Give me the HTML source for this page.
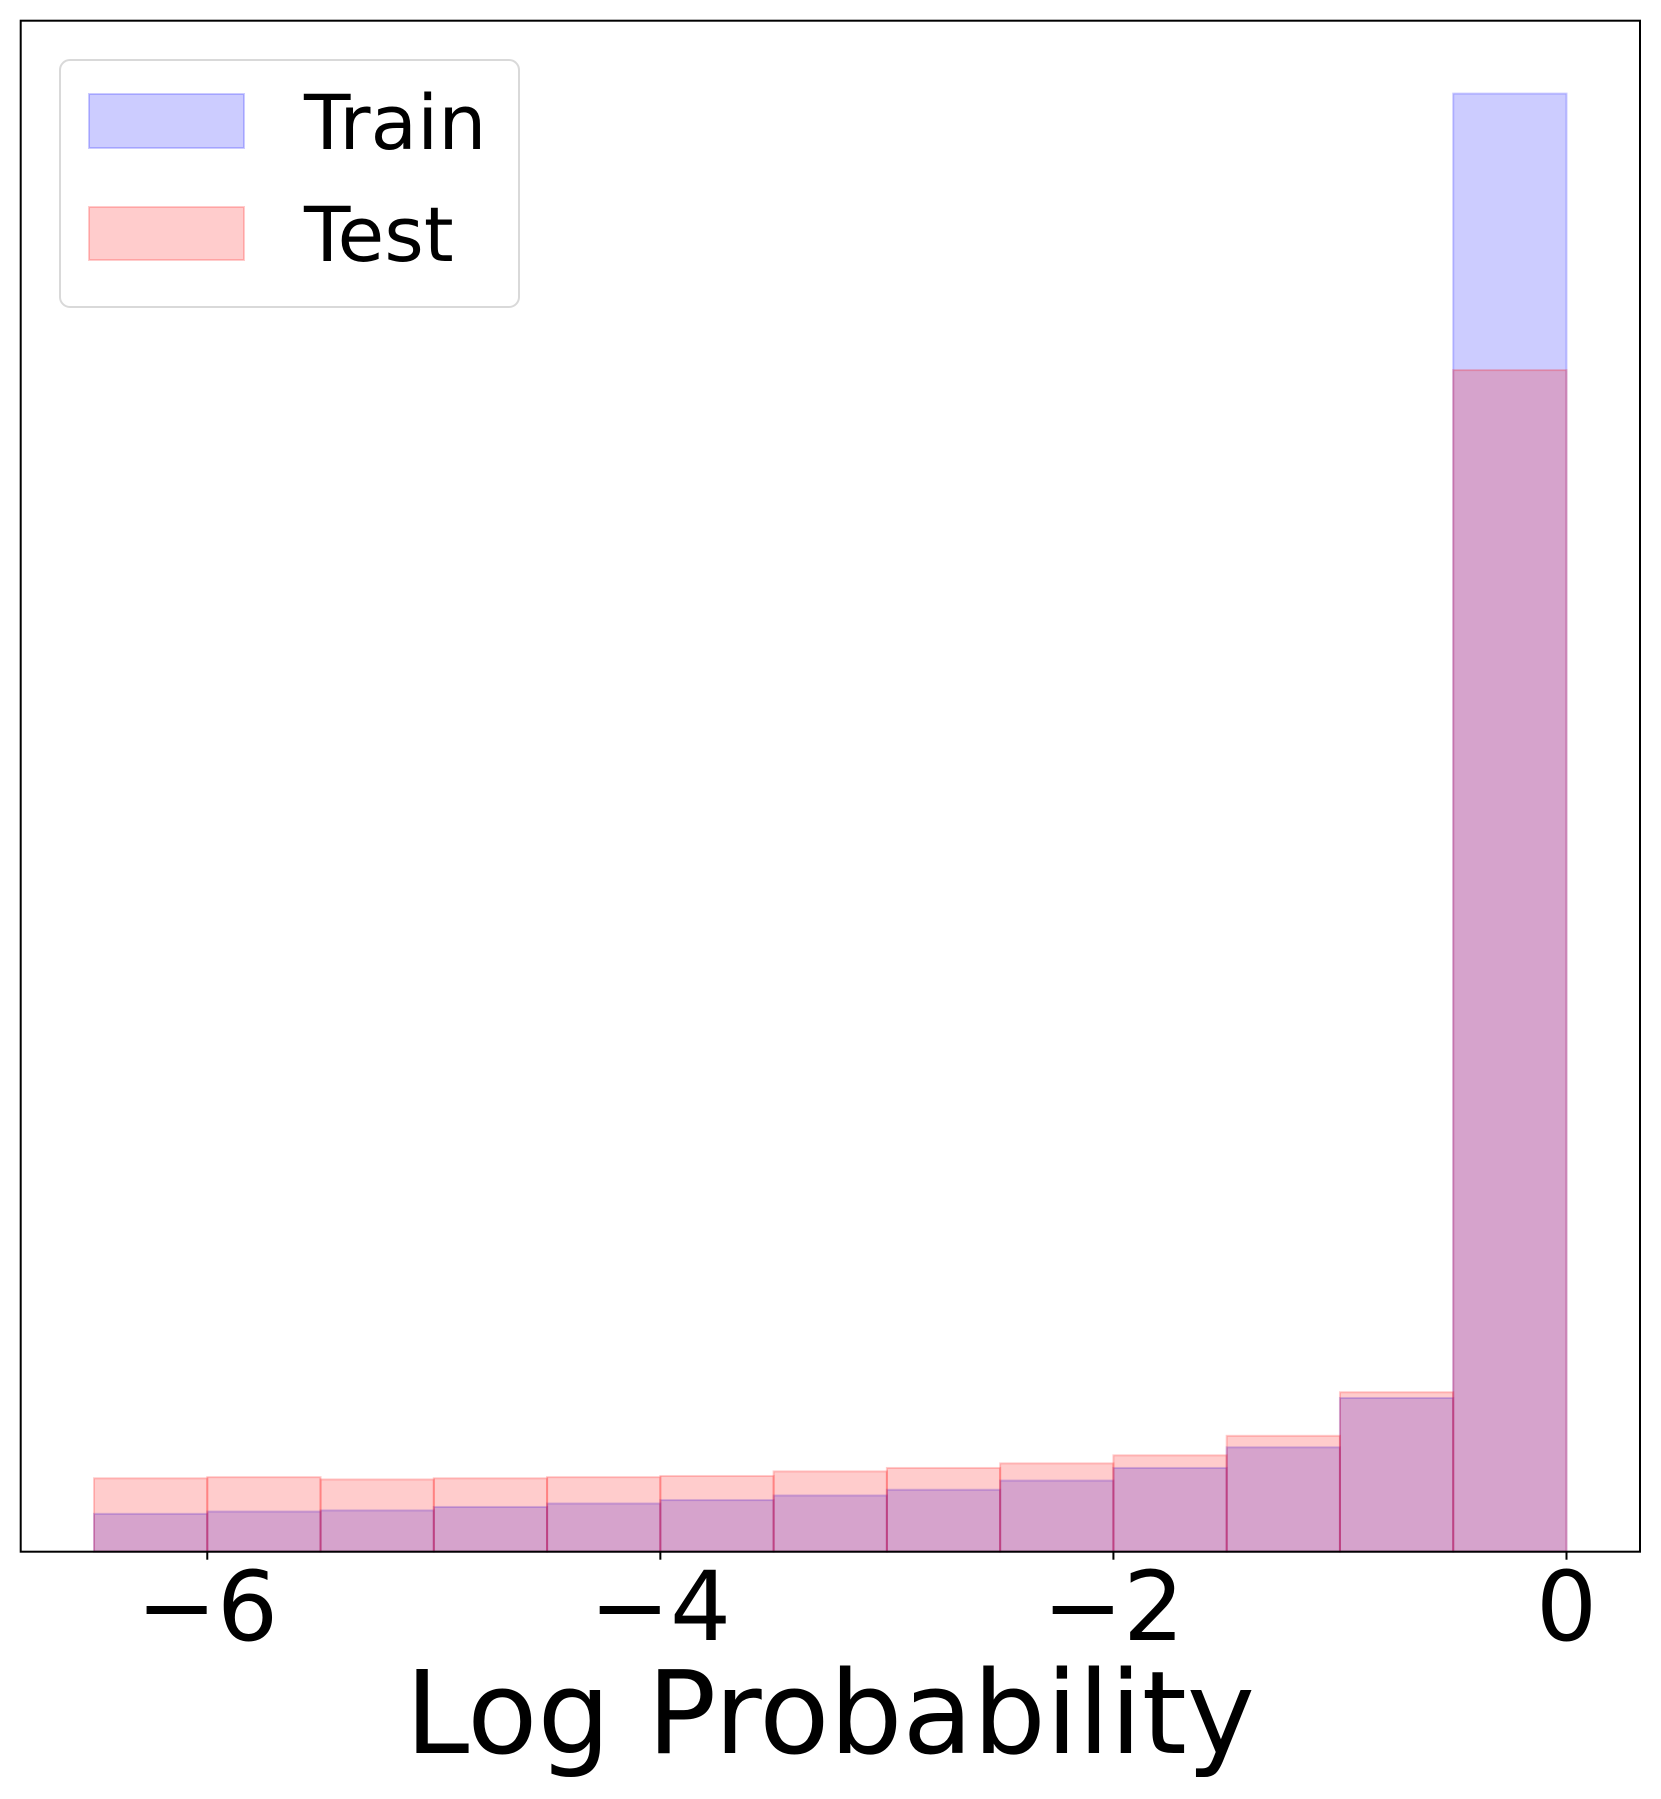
<!DOCTYPE html>
<html><head><meta charset="utf-8"><style>
html,body{margin:0;padding:0;background:#fff;}
svg{display:block;font-family:"DejaVu Sans","Liberation Sans",sans-serif;}
</style></head><body>
<svg id="chart" width="1661" height="1799" viewBox="0 0 1661 1799">
<g id="bars"></g>
<rect x="20.7" y="20.7" width="1619.3" height="1531" fill="none" stroke="#000" stroke-width="2"/>
<g id="ticks"></g>
<text x="830" y="1753" font-size="115" text-anchor="middle">Log Probability</text>
<g>
<rect x="60" y="60" width="459" height="247" rx="10" fill="#fff" stroke="#d9d9d9" stroke-width="2"/>
<g>
<rect x="89" y="94" width="155" height="54" fill="rgba(0,0,255,0.2)" stroke="rgba(0,0,255,0.2)" stroke-width="2"/>
<text x="304" y="149" font-size="76">Train</text>
</g>
<g>
<rect x="89" y="207" width="155" height="53" fill="rgba(255,0,0,0.2)" stroke="rgba(255,0,0,0.2)" stroke-width="2"/>
<text x="304" y="261" font-size="76">Test</text>
</g>
</g>
</svg>
<script>
const binEdgesStart = -6.5;
const binWidth = 0.5;
const trainValues = [33,35,36,39,42,45,49,54,62,73,91,134,1271];
const testValues = [64,65,63,64,65,66,70,73,77,84,101,139,1030];
const tickValues = [-6,-4,-2,0];
const tickLabels = ["\u22126","\u22124","\u22122","0"];

const NS = "http://www.w3.org/2000/svg";
const plotL = 20.7, plotR = 1640, plotT = 20.7, plotB = 1551.7;
const xMin = -6.5 - (94 - 20.7) / 226.5, xMax = 0 + (1640 - 1566.5) / 226.5;
function xs(v){ return plotL + (v - xMin) / (xMax - xMin) * (plotR - plotL); }
const yMax = Math.max(...trainValues, ...testValues) * 1.05;
function ys(v){ return plotB - v / yMax * (plotB - plotT); }

const bars = document.getElementById('bars');
function drawSeries(vals, fill, stroke, name){
  vals.forEach((v,i)=>{
    const x0 = xs(binEdgesStart + i*binWidth), x1 = xs(binEdgesStart + (i+1)*binWidth);
    const r = document.createElementNS(NS,'rect');
    r.setAttribute('x', x0); r.setAttribute('width', x1-x0);
    r.setAttribute('y', ys(v)); r.setAttribute('height', ys(0)-ys(v));
    r.setAttribute('fill', fill); r.setAttribute('stroke', stroke); r.setAttribute('stroke-width', '2');
    
    
    bars.appendChild(r);
  });
}
drawSeries(trainValues, 'rgba(0,0,255,0.2)', 'rgba(0,0,255,0.2)', 'train');
drawSeries(testValues, 'rgba(255,0,0,0.2)', 'rgba(255,0,0,0.2)', 'test');

const ticks = document.getElementById('ticks');
tickValues.forEach((t,i)=>{
  const x = xs(t);
  const l = document.createElementNS(NS,'line');
  l.setAttribute('x1', x); l.setAttribute('x2', x);
  l.setAttribute('y1', plotB); l.setAttribute('y2', plotB + 8);
  l.setAttribute('stroke', '#000'); l.setAttribute('stroke-width', '2');
  
  
  ticks.appendChild(l);
  const tx = document.createElementNS(NS,'text');
  tx.setAttribute('x', x); tx.setAttribute('y', 1640);
  tx.setAttribute('font-size', '96'); tx.setAttribute('text-anchor', 'middle');
  tx.textContent = tickLabels[i];
  
  
  ticks.appendChild(tx);
});
</script>
</body></html>
